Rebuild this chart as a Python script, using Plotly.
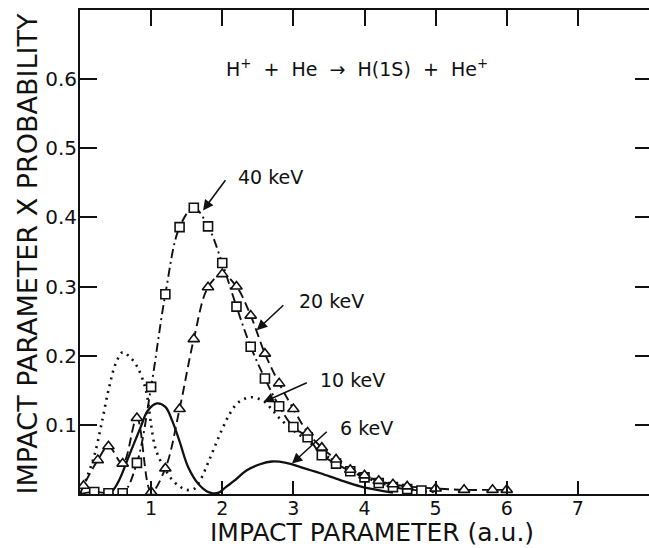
import plotly.graph_objects as go

# ---- data ----
# 40 keV (squares, dash-dot)
x40 = [0.2, 0.4, 0.6, 0.8, 1.0, 1.2, 1.4, 1.6, 1.8, 2.0, 2.2, 2.4, 2.6, 2.8,
       3.0, 3.2, 3.4, 3.6, 3.8, 4.0, 4.2, 4.4, 4.6, 4.8]
y40 = [0.003, 0.001, 0.001, 0.045, 0.155, 0.289, 0.386, 0.414, 0.387, 0.334,
       0.271, 0.213, 0.167, 0.127, 0.097, 0.082, 0.056, 0.044, 0.033, 0.024,
       0.016, 0.010, 0.007, 0.005]
line40_x = [0.0] + x40 + [5.0]
line40_y = [0.0] + y40 + [0.004]

# 20 keV (triangles, dashed)
x20 = [0.05, 0.25, 0.4, 0.6, 0.8, 1.0, 1.2, 1.4, 1.6, 1.8, 2.0, 2.2, 2.4, 2.6,
       2.8, 3.0, 3.2, 3.4, 3.6, 3.8, 4.0, 4.2, 4.4, 4.6, 5.0, 5.4, 5.8, 6.0]
y20 = [0.012, 0.049, 0.069, 0.044, 0.110, 0.003, 0.037, 0.123, 0.224, 0.299,
       0.318, 0.300, 0.258, 0.203, 0.160, 0.123, 0.089, 0.067, 0.050, 0.035,
       0.027, 0.019, 0.014, 0.011, 0.008, 0.006, 0.006, 0.006]
line20_x = [0.0] + x20
line20_y = [0.0] + y20

# 10 keV (dotted curve)
x10 = [0.0, 0.1, 0.2, 0.3, 0.4, 0.5, 0.6, 0.7, 0.8, 0.9, 0.95, 1.0, 1.05, 1.1,
       1.2, 1.3, 1.4, 1.5, 1.6, 1.7, 1.8, 1.9, 2.0, 2.1, 2.2, 2.3, 2.4, 2.5,
       2.6, 2.7, 2.8, 3.0, 3.2, 3.4, 3.6, 3.8, 4.0, 4.2, 4.4, 4.6, 4.8, 5.0]
y10 = [0.0, 0.025, 0.055, 0.100, 0.150, 0.188, 0.205, 0.198, 0.185, 0.160,
       0.138, 0.100, 0.070, 0.055, 0.035, 0.020, 0.011, 0.006, 0.007, 0.022,
       0.045, 0.070, 0.094, 0.115, 0.130, 0.137, 0.140, 0.138, 0.133, 0.122,
       0.110, 0.092, 0.077, 0.060, 0.046, 0.034, 0.025, 0.017, 0.011, 0.007,
       0.004, 0.003]

# 6 keV (solid curve)
x6 = [0.35, 0.45, 0.55, 0.7, 0.85, 0.95, 1.08, 1.2, 1.3, 1.4, 1.52, 1.66,
      1.78, 1.87, 1.95, 2.05, 2.18, 2.34, 2.53, 2.70, 2.90, 3.10, 3.38, 3.66,
      3.94, 4.17, 4.4]
y6 = [0.0, 0.004, 0.020, 0.058, 0.096, 0.120, 0.131, 0.126, 0.105, 0.076,
      0.039, 0.015, 0.004, 0.001, 0.002, 0.010, 0.020, 0.034, 0.043, 0.047,
      0.045, 0.039, 0.030, 0.020, 0.011, 0.006, 0.002]

xticks = [1, 2, 3, 4, 5, 6, 7]
yticks = [0.1, 0.2, 0.3, 0.4, 0.5, 0.6]
ytick_text = ["0.1", "0.2", "0.3", "0.4", "0.5", "0.6"]

labels = ["40 keV", "20 keV", "10 keV", "6 keV"]
label_pos = [(2.20, 0.458), (3.05, 0.279), (3.35, 0.165), (3.63, 0.095)]
arrow_tail = [(2.06, 0.456), (2.88, 0.275), (3.21, 0.162), (3.49, 0.092)]
arrow_tip = [(1.73, 0.410), (2.485, 0.237), (2.58, 0.133), (2.98, 0.044)]

FONT = "DejaVu Sans"
BLACK = "#111111"
NB = "\u00a0"

fig = go.Figure()

fig.add_trace(go.Scatter(x=x10, y=y10, mode="lines", line_shape="spline",
                         line=dict(color=BLACK, width=2.6, dash="2px,5px"),
                         showlegend=False, hoverinfo="skip"))
fig.add_trace(go.Scatter(x=x6, y=y6, mode="lines", line_shape="spline",
                         line=dict(color=BLACK, width=2.3),
                         showlegend=False, hoverinfo="skip"))
fig.add_trace(go.Scatter(x=line40_x, y=line40_y, mode="lines", line_shape="spline",
                         line=dict(color=BLACK, width=1.9, dash="9px,4px,2px,4px"),
                         showlegend=False, hoverinfo="skip"))
fig.add_trace(go.Scatter(x=line20_x, y=line20_y, mode="lines", line_shape="spline",
                         line=dict(color=BLACK, width=1.9, dash="9px,5px"),
                         showlegend=False, hoverinfo="skip"))
fig.add_trace(go.Scatter(x=x40, y=y40, mode="markers",
                         marker=dict(symbol="square", size=9, color="white",
                                     line=dict(color=BLACK, width=1.6)),
                         showlegend=False, hoverinfo="skip"))
fig.add_trace(go.Scatter(x=x20, y=y20, mode="markers",
                         marker=dict(symbol="triangle-up", size=10, color="white",
                                     line=dict(color=BLACK, width=1.6)),
                         showlegend=False, hoverinfo="skip"))
# dummy trace to create the mirrored (top / right) tick axes
fig.add_trace(go.Scatter(x=[None], y=[None], xaxis="x2", yaxis="y2",
                         showlegend=False, hoverinfo="skip"))

for txt, (lx, ly), (tx, ty), (hx, hy) in zip(labels, label_pos, arrow_tail, arrow_tip):
    fig.add_annotation(x=hx, y=hy, ax=tx, ay=ty, axref="x", ayref="y",
                       xref="x", yref="y", text="", showarrow=True,
                       arrowhead=2, arrowsize=1.3, arrowwidth=1.6,
                       arrowcolor=BLACK)
    fig.add_annotation(x=lx, y=ly, xref="x", yref="y", text=txt,
                       showarrow=False, xanchor="left", yanchor="middle",
                       font=dict(family=FONT, size=19, color=BLACK))

reaction = ("H<sup>+</sup>" + NB + NB + "+" + NB + NB + "He" + NB + NB + "\u2192"
            + NB + NB + "H(1S)" + NB + NB + "+" + NB + NB + "He<sup>+</sup>")
fig.add_annotation(x=3.9, y=0.616, xref="x", yref="y", text=reaction,
                   showarrow=False, xanchor="center", yanchor="middle",
                   font=dict(family=FONT, size=19, color=BLACK))

fig.add_annotation(x=0.513, y=-0.080, xref="paper", yref="paper",
                   text="IMPACT PARAMETER (a.u.)", showarrow=False,
                   xanchor="center", yanchor="middle",
                   font=dict(family=FONT, size=25, color=BLACK))
fig.add_annotation(x=-0.093, y=0.495, xref="paper", yref="paper",
                   text="IMPACT PARAMETER X PROBABILITY", showarrow=False,
                   textangle=-90, xanchor="center", yanchor="middle",
                   font=dict(family=FONT, size=27, color=BLACK))

fig.update_layout(
    width=649, height=548,
    margin=dict(l=80, r=0, t=10, b=54),
    paper_bgcolor="white", plot_bgcolor="white",
    xaxis=dict(range=[0, 8], tickvals=xticks, ticks="inside", ticklen=13,
               tickwidth=2, tickcolor=BLACK, showline=True, linewidth=2,
               linecolor=BLACK, showgrid=False, zeroline=False,
               ticklabelstandoff=-4,
               tickfont=dict(family=FONT, size=19, color=BLACK)),
    yaxis=dict(range=[0, 0.7], tickvals=yticks, ticktext=ytick_text,
               ticks="inside", ticklen=17, tickwidth=2, tickcolor=BLACK,
               showline=True, linewidth=2, linecolor=BLACK, showgrid=False,
               zeroline=False, ticklabelstandoff=-3,
               tickfont=dict(family=FONT, size=20, color=BLACK)),
    xaxis2=dict(range=[0, 8], overlaying="x", side="top", tickvals=xticks,
                ticks="inside", ticklen=16, tickwidth=2, tickcolor=BLACK,
                showline=True, linewidth=2, linecolor=BLACK,
                showticklabels=False, showgrid=False, zeroline=False),
    yaxis2=dict(range=[0, 0.7], overlaying="y", side="right", tickvals=yticks,
                ticks="inside", ticklen=14, tickwidth=2, tickcolor=BLACK,
                showline=False, showticklabels=False, showgrid=False,
                zeroline=False),
)

fig.write_html("out.html")
